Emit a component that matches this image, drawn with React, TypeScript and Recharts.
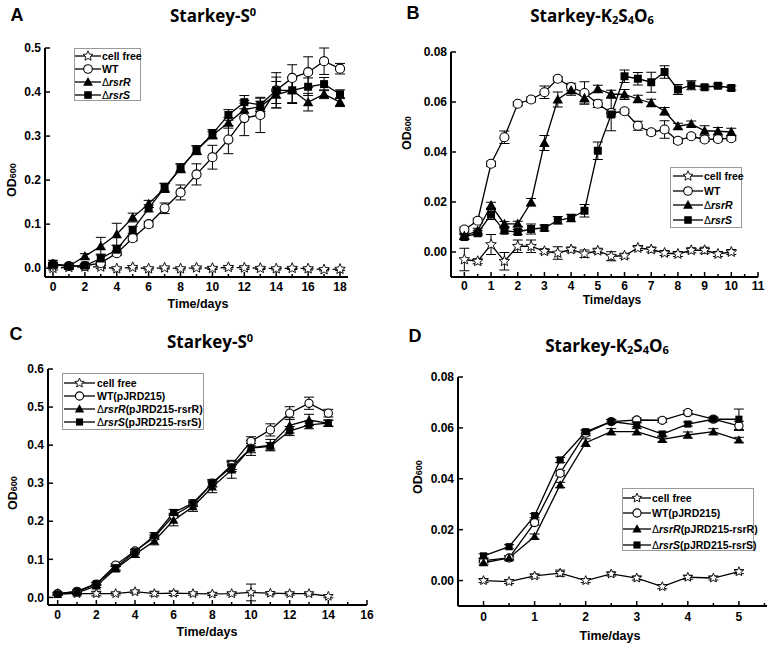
import React from "react";
import { LineChart, Line, XAxis, YAxis, ErrorBar } from "recharts";

// ---------- Panel A: Starkey-S0 ----------
const A_DAYS = [0, 1, 2, 3, 4, 5, 6, 7, 8, 9, 10, 11, 12, 13, 14, 15, 16, 17, 18];
const A_CELLFREE = [0, 0.002, 0.003, 0.003, -0.001, 0.002, -0.001, 0.001, -0.001, 0.001, 0, 0.002, 0.001, 0, -0.001, 0, -0.001, -0.003, -0.002];
const A_CELLFREE_ERR = [0.004, 0.004, 0.004, 0.004, 0.003, 0.004, 0.003, 0.003, 0.003, 0.003, 0.003, 0.004, 0.004, 0.003, 0.003, 0.003, 0.003, 0.003, 0.003];
const A_WT = [0.008, 0.005, 0.005, 0.012, 0.034, 0.068, 0.1, 0.136, 0.172, 0.213, 0.252, 0.292, 0.341, 0.348, 0.404, 0.432, 0.445, 0.47, 0.453];
const A_WT_ERR = [0.003, 0.003, 0.003, 0.005, 0.005, 0.006, 0.006, 0.012, 0.017, 0.024, 0.027, 0.032, 0.04, 0.04, 0.03, 0.03, 0.035, 0.03, 0.012];
const A_RSRR = [0.01, 0.005, 0.027, 0.05, 0.077, 0.115, 0.146, 0.182, 0.227, 0.268, 0.302, 0.33, 0.36, 0.367, 0.394, 0.404, 0.377, 0.395, 0.377];
const A_RSRR_ERR = [0.008, 0.004, 0.006, 0.02, 0.025, 0.01, 0.008, 0.01, 0.01, 0.01, 0.008, 0.012, 0.015, 0.012, 0.03, 0.028, 0.02, 0.01, 0.01];
const A_RSRS = [0.008, 0.005, 0.006, 0.022, 0.042, 0.087, 0.136, 0.183, 0.227, 0.268, 0.305, 0.348, 0.377, 0.371, 0.404, 0.404, 0.412, 0.418, 0.395];
const A_RSRS_ERR = [0.005, 0.004, 0.004, 0.01, 0.01, 0.008, 0.008, 0.01, 0.01, 0.01, 0.01, 0.012, 0.015, 0.015, 0.04, 0.03, 0.02, 0.015, 0.01];
const A_X_TICKS = [0, 1, 2, 3, 4, 5, 6, 7, 8, 9, 10, 11, 12, 13, 14, 15, 16, 17, 18];
const A_X_LABELS = [0, 2, 4, 6, 8, 10, 12, 14, 16, 18];
const A_Y_TICKS = [0, 0.1, 0.2, 0.3, 0.4, 0.5];

// ---------- Panel B: Starkey-K2S4O6 ----------
const B_DAYS = [0, 0.5, 1, 1.5, 2, 2.5, 3, 3.5, 4, 4.5, 5, 5.5, 6, 6.5, 7, 7.5, 8, 8.5, 9, 9.5, 10];
const B_CELLFREE = [-0.003, -0.0037, 0.003, -0.0037, 0.0023, 0.0023, 0.0003, -0.0004, 0.001, -0.0007, 0.0005, -0.0017, -0.0015, 0.0016, 0.001, -0.0004, -0.0008, 0.0007, 0.0007, -0.0008, 0];
const B_CELLFREE_ERR = [0.0045, 0.001, 0.004, 0.0035, 0.0025, 0.0025, 0.001, 0.0025, 0.001, 0.0015, 0.001, 0.0018, 0.001, 0.001, 0.001, 0.001, 0.001, 0.001, 0.0012, 0.001, 0.001];
const B_WT = [0.009, 0.0125, 0.0353, 0.0459, 0.0593, 0.061, 0.0639, 0.0693, 0.066, 0.0636, 0.0593, 0.0556, 0.0563, 0.0505, 0.0479, 0.049, 0.0445, 0.0463, 0.045, 0.0452, 0.0455];
const B_WT_ERR = [0.001, 0.001, 0.001, 0.0025, 0.0008, 0.001, 0.0025, 0.0008, 0.0015, 0.0045, 0.0015, 0.0015, 0.0008, 0.0018, 0.001, 0.0035, 0.001, 0.0008, 0.0008, 0.0008, 0.0008];
const B_RSRR = [0.0065, 0.0085, 0.0187, 0.0112, 0.0113, 0.0199, 0.0436, 0.061, 0.0647, 0.0616, 0.0652, 0.0632, 0.063, 0.0612, 0.0596, 0.0563, 0.0503, 0.0512, 0.0485, 0.0483, 0.048];
const B_RSRR_ERR = [0.001, 0.001, 0.0012, 0.001, 0.001, 0.0015, 0.003, 0.003, 0.002, 0.002, 0.0015, 0.0015, 0.002, 0.0015, 0.0015, 0.0015, 0.0012, 0.0012, 0.002, 0.0015, 0.0015];
const B_RSRS = [0.006, 0.0075, 0.015, 0.0085, 0.008, 0.0092, 0.0096, 0.0127, 0.0136, 0.0165, 0.0405, 0.055, 0.0703, 0.0693, 0.0679, 0.072, 0.065, 0.0667, 0.0659, 0.0665, 0.0656];
const B_RSRS_ERR = [0.001, 0.001, 0.002, 0.001, 0.001, 0.002, 0.0012, 0.0015, 0.0015, 0.0025, 0.0035, 0.0065, 0.0025, 0.0025, 0.004, 0.0025, 0.002, 0.0018, 0.0008, 0.0008, 0.0008];
const B_X_TICKS = [0, 0.5, 1, 1.5, 2, 2.5, 3, 3.5, 4, 4.5, 5, 5.5, 6, 6.5, 7, 7.5, 8, 8.5, 9, 9.5, 10, 10.5, 11];
const B_X_LABELS = [0, 1, 2, 3, 4, 5, 6, 7, 8, 9, 10, 11];
const B_Y_TICKS = [0, 0.02, 0.04, 0.06, 0.08];

// ---------- Panel C: Starkey-S0, complemented ----------
const C_DAYS = [0, 1, 2, 3, 4, 5, 6, 7, 8, 9, 10, 11, 12, 13, 14];
const C_CELLFREE = [0.01, 0.01, 0.01, 0.01, 0.015, 0.01, 0.011, 0.01, 0.009, 0.01, 0.013, 0.011, 0.01, 0.01, 0.003];
const C_CELLFREE_ERR = [0.003, 0.003, 0.006, 0.004, 0.004, 0.006, 0.006, 0.004, 0.004, 0.004, 0.022, 0.004, 0.004, 0.004, 0.004];
const C_WT = [0.01, 0.016, 0.035, 0.085, 0.122, 0.158, 0.215, 0.245, 0.3, 0.348, 0.41, 0.44, 0.484, 0.51, 0.484];
const C_WT_ERR = [0.003, 0.003, 0.004, 0.004, 0.004, 0.006, 0.006, 0.006, 0.008, 0.012, 0.012, 0.016, 0.017, 0.016, 0.01];
const C_RSRR = [0.008, 0.012, 0.03, 0.075, 0.113, 0.148, 0.203, 0.238, 0.29, 0.335, 0.393, 0.4, 0.452, 0.466, 0.457];
const C_RSRR_ERR = [0.003, 0.003, 0.004, 0.006, 0.008, 0.01, 0.015, 0.012, 0.015, 0.022, 0.02, 0.015, 0.02, 0.015, 0.008];
const C_RSRS = [0.009, 0.016, 0.036, 0.078, 0.12, 0.162, 0.223, 0.248, 0.3, 0.343, 0.392, 0.397, 0.437, 0.453, 0.458];
const C_RSRS_ERR = [0.003, 0.003, 0.004, 0.006, 0.006, 0.008, 0.008, 0.008, 0.01, 0.012, 0.012, 0.01, 0.012, 0.01, 0.008];
const C_X_TICKS = [0, 1, 2, 3, 4, 5, 6, 7, 8, 9, 10, 11, 12, 13, 14, 15, 16];
const C_X_LABELS = [0, 2, 4, 6, 8, 10, 12, 14, 16];
const C_Y_TICKS = [0, 0.1, 0.2, 0.3, 0.4, 0.5, 0.6];

// ---------- Panel D: Starkey-K2S4O6, complemented ----------
const D_DAYS = [0, 0.5, 1, 1.5, 2, 2.5, 3, 3.5, 4, 4.5, 5];
const D_CELLFREE = [0, -0.0004, 0.0018, 0.0029, 0, 0.0026, 0.001, -0.0024, 0.0013, 0.001, 0.0035];
const D_CELLFREE_ERR = [0.0008, 0.0008, 0.0008, 0.0012, 0.0008, 0.0008, 0.0008, 0.0008, 0.0008, 0.0008, 0.0008];
const D_WT = [0.0078, 0.0089, 0.0228, 0.0422, 0.0579, 0.0625, 0.0631, 0.063, 0.066, 0.0634, 0.0608];
const D_WT_ERR = [0.0008, 0.0008, 0.001, 0.001, 0.001, 0.0008, 0.0008, 0.0008, 0.0008, 0.0008, 0.0018];
const D_RSRR = [0.007, 0.0089, 0.0173, 0.0376, 0.0542, 0.0585, 0.0585, 0.0555, 0.0572, 0.0585, 0.0553];
const D_RSRR_ERR = [0.0008, 0.0008, 0.001, 0.001, 0.0015, 0.0012, 0.0012, 0.001, 0.0012, 0.0012, 0.001];
const D_RSRS = [0.0097, 0.0133, 0.0255, 0.0474, 0.0585, 0.0625, 0.0612, 0.0576, 0.0615, 0.0634, 0.0634];
const D_RSRS_ERR = [0.0008, 0.0008, 0.0008, 0.001, 0.0008, 0.0008, 0.0008, 0.0008, 0.0008, 0.0008, 0.004];
const D_X_TICKS = [0, 0.5, 1, 1.5, 2, 2.5, 3, 3.5, 4, 4.5, 5, 5.5];
const D_X_LABELS = [0, 1, 2, 3, 4, 5];
const D_Y_TICKS = [0, 0.02, 0.04, 0.06, 0.08];

// legend texts
const STRAINS = ["cell free", "WT", "\u0394rsrR", "\u0394rsrS"];
const PLASMIDS = ["", "(pJRD215)", "(pJRD215-rsrR)", "(pJRD215-rsrS)"];

const FONT = "'Liberation Sans', Arial, Helvetica, sans-serif";
const SERIES = [
  { key: "cf", kind: "star" },
  { key: "wt", kind: "circle" },
  { key: "r", kind: "triangle" },
  { key: "s", kind: "square" },
];

function Marker({ kind, cx, cy, s }: { kind: string; cx: number; cy: number; s: number }) {
  if (kind === "circle")
    return <circle cx={cx} cy={cy} r={s * 0.48} fill="#fff" stroke="#000" strokeWidth={1.1} />;
  if (kind === "square")
    return <rect x={cx - s * 0.42} y={cy - s * 0.42} width={s * 0.84} height={s * 0.84} fill="#000" />;
  if (kind === "triangle")
    return (
      <polygon
        points={`${cx},${cy - s * 0.55} ${cx + s * 0.55},${cy + s * 0.42} ${cx - s * 0.55},${cy + s * 0.42}`}
        fill="#000"
      />
    );
  const pts: string[] = [];
  for (let i = 0; i < 10; i++) {
    const rad = i % 2 === 0 ? s * 0.58 : s * 0.26;
    const a = -Math.PI / 2 + (i * Math.PI) / 5;
    pts.push(`${cx + rad * Math.cos(a)},${cy + rad * Math.sin(a)}`);
  }
  return <polygon points={pts.join(" ")} fill="#fff" stroke="#000" strokeWidth={0.9} />;
}

interface PanelCfg {
  left: number;
  top: number;
  width: number;
  height: number;
  margin: { top: number; right: number; bottom: number; left: number };
  yAxisWidth: number;
  days: number[];
  series: number[][]; // cf, cfE, wt, wtE, r, rE, s, sE
  xDomain: [number, number];
  xTicks: number[];
  xLabels: number[];
  xLabelGap: number;
  yDomain: [number, number];
  yTicks: number[];
  yDigits: number;
  cfDash?: string;
  size: number;
}

function Panel({ cfg }: { cfg: PanelCfg }) {
  const [cf, cfE, wt, wtE, r, rE, s, sE] = cfg.series;
  const data = cfg.days.map((d, i) => ({
    day: d,
    cf: cf[i], cfE: cfE[i],
    wt: wt[i], wtE: wtE[i],
    r: r[i], rE: rE[i],
    s: s[i], sE: sE[i],
  }));

  const xTick = (props: any) => {
    const { x, y, payload } = props;
    const major = cfg.xLabels.includes(payload.value);
    return (
      <g>
        <line x1={x} x2={x} y1={y} y2={y - (major ? 5 : 3)} stroke="#000" strokeWidth={1.5} />
        {major && (
          <text x={x} y={y + cfg.xLabelGap} dy="0.35em" textAnchor="middle" fontSize={12} fontWeight="bold" fontFamily={FONT} fill="#000">
            {payload.value}
          </text>
        )}
      </g>
    );
  };

  const yTick = (props: any) => {
    const { x, y, payload } = props;
    return (
      <g>
        <line x1={x} x2={x + 5} y1={y} y2={y} stroke="#000" strokeWidth={1.5} />
        <text x={x - 4} y={y} dy="0.35em" textAnchor="end" fontSize={12} fontWeight="bold" fontFamily={FONT} fill="#000">
          {Number(payload.value).toFixed(cfg.yDigits)}
        </text>
      </g>
    );
  };

  return (
    <div style={{ position: "absolute", left: cfg.left, top: cfg.top }}>
      <LineChart width={cfg.width} height={cfg.height} data={data} margin={cfg.margin}>
        <XAxis
          dataKey="day"
          type="number"
          domain={cfg.xDomain}
          ticks={cfg.xTicks}
          interval={0}
          allowDataOverflow
          height={30}
          tickSize={0}
          tickMargin={0}
          tickLine={false}
          axisLine={{ stroke: "#000", strokeWidth: 2 }}
          tick={xTick}
        />
        <YAxis
          type="number"
          domain={cfg.yDomain}
          ticks={cfg.yTicks}
          interval={0}
          allowDataOverflow
          width={cfg.yAxisWidth}
          tickSize={0}
          tickMargin={0}
          tickLine={false}
          axisLine={{ stroke: "#000", strokeWidth: 2 }}
          tick={yTick}
        />
        {SERIES.map((ser) => (
          <Line
            key={ser.key}
            dataKey={ser.key}
            type="linear"
            stroke="#000"
            strokeWidth={1.3}
            strokeDasharray={ser.key === "cf" ? cfg.cfDash : undefined}
            isAnimationActive={false}
            activeDot={false}
            dot={(d: any) => (
              <Marker key={`${ser.key}-${d.index}`} kind={ser.kind} cx={d.cx} cy={d.cy} s={cfg.size} />
            )}
          >
            <ErrorBar dataKey={`${ser.key}E`} width={5} stroke="#000" strokeWidth={1} direction="y" isAnimationActive={false} />
          </Line>
        ))}
      </LineChart>
    </div>
  );
}

function StrainLabel({ i, withPlasmid }: { i: number; withPlasmid: boolean }) {
  const name = STRAINS[i];
  const tail = withPlasmid ? PLASMIDS[i] : "";
  if (name.startsWith("\u0394")) {
    return (
      <span>
        <span style={{ fontWeight: 400 }}>{"\u0394"}</span>
        <i>{name.slice(1)}</i>
        {tail}
      </span>
    );
  }
  return <span>{name + tail}</span>;
}

function LegendBox({
  box, rows, sampleLeft, sampleWidth, textLeft, withPlasmid, size,
}: {
  box: [number, number, number, number];
  rows: number[];
  sampleLeft: number;
  sampleWidth: number;
  textLeft: number;
  withPlasmid: boolean;
  size: number;
}) {
  return (
    <>
      <div
        style={{
          position: "absolute", left: box[0], top: box[1], width: box[2], height: box[3],
          border: "1px solid #9a9a9a", boxSizing: "border-box",
        }}
      />
      {rows.map((cy, i) => (
        <React.Fragment key={i}>
          <svg style={{ position: "absolute", left: sampleLeft, top: cy - 7 }} width={sampleWidth} height={14}>
            <line x1={0} x2={sampleWidth} y1={7} y2={7} stroke="#000" strokeWidth={1.3} />
            <Marker kind={SERIES[i].kind} cx={sampleWidth / 2} cy={7} s={size} />
          </svg>
          <div
            style={{
              position: "absolute", left: textLeft, top: cy - 7, height: 14, lineHeight: "14px",
              fontSize: 10.5, fontWeight: "bold", fontFamily: FONT, whiteSpace: "nowrap", color: "#000",
            }}
          >
            <StrainLabel i={i} withPlasmid={withPlasmid} />
          </div>
        </React.Fragment>
      ))}
    </>
  );
}

function Abs({ x, y, children, style }: { x: number; y: number; children: React.ReactNode; style?: React.CSSProperties }) {
  return (
    <div
      style={{
        position: "absolute", left: x, top: y, transform: "translate(-50%, -50%)",
        whiteSpace: "nowrap", lineHeight: 1, color: "#000", ...style,
      }}
    >
      {children}
    </div>
  );
}

const titleStyle: React.CSSProperties = { fontFamily: "'Open Sans', sans-serif", fontWeight: 700, fontSize: 17 };
const letterStyle: React.CSSProperties = { fontFamily: FONT, fontWeight: "bold", fontSize: 18 };
const axisStyle: React.CSSProperties = { fontFamily: FONT, fontWeight: "bold", fontSize: 12.5 };
const sub: React.CSSProperties = { fontSize: "0.65em", verticalAlign: "-0.25em" };
const sup: React.CSSProperties = { fontSize: "0.65em", verticalAlign: "0.55em" };

function TitleS0() {
  return (
    <span>
      Starkey-S<span style={sup}>0</span>
    </span>
  );
}
function TitleK() {
  return (
    <span>
      Starkey-K<span style={sub}>2</span>S<span style={sub}>4</span>O<span style={sub}>6</span>
    </span>
  );
}
function OD({ x, y }: { x: number; y: number }) {
  return (
    <Abs x={x} y={y} style={{ ...axisStyle, transform: "translate(-50%, -50%) rotate(-90deg)" }}>
      OD<span style={{ fontSize: 9 }}>600</span>
    </Abs>
  );
}

const PANEL_A: PanelCfg = {
  left: 0, top: 0, width: 387, height: 320,
  margin: { top: 48, right: 39, bottom: 13, left: 5 }, yAxisWidth: 40,
  days: A_DAYS,
  series: [A_CELLFREE, A_CELLFREE_ERR, A_WT, A_WT_ERR, A_RSRR, A_RSRR_ERR, A_RSRS, A_RSRS_ERR],
  xDomain: [-0.5, 18.5], xTicks: A_X_TICKS, xLabels: A_X_LABELS, xLabelGap: 10,
  yDomain: [-0.02, 0.5], yTicks: A_Y_TICKS, yDigits: 1, cfDash: "5 3", size: 9.5,
};
const PANEL_B: PanelCfg = {
  left: 387, top: 0, width: 387, height: 320,
  margin: { top: 52, right: 16, bottom: 13, left: 19 }, yAxisWidth: 45,
  days: B_DAYS,
  series: [B_CELLFREE, B_CELLFREE_ERR, B_WT, B_WT_ERR, B_RSRR, B_RSRR_ERR, B_RSRS, B_RSRS_ERR],
  xDomain: [-0.5, 11], xTicks: B_X_TICKS, xLabels: B_X_LABELS, xLabelGap: 8.5,
  yDomain: [-0.01, 0.08], yTicks: B_Y_TICKS, yDigits: 2, size: 9.5,
};
const PANEL_C: PanelCfg = {
  left: 0, top: 320, width: 387, height: 331,
  margin: { top: 49, right: 20, bottom: 16, left: 8 }, yAxisWidth: 40,
  days: C_DAYS,
  series: [C_CELLFREE, C_CELLFREE_ERR, C_WT, C_WT_ERR, C_RSRR, C_RSRR_ERR, C_RSRS, C_RSRS_ERR],
  xDomain: [-0.5, 16], xTicks: C_X_TICKS, xLabels: C_X_LABELS, xLabelGap: 10,
  yDomain: [-0.02, 0.6], yTicks: C_Y_TICKS, yDigits: 1, size: 8.5,
};
const PANEL_D: PanelCfg = {
  left: 387, top: 320, width: 387, height: 331,
  margin: { top: 57, right: 7, bottom: 15, left: 26 }, yAxisWidth: 45,
  days: D_DAYS,
  series: [D_CELLFREE, D_CELLFREE_ERR, D_WT, D_WT_ERR, D_RSRR, D_RSRR_ERR, D_RSRS, D_RSRS_ERR],
  xDomain: [-0.5, 5.55], xTicks: D_X_TICKS, xLabels: D_X_LABELS, xLabelGap: 11,
  yDomain: [-0.01, 0.08], yTicks: D_Y_TICKS, yDigits: 2, size: 8.5,
};

export default function App() {
  return (
    <div style={{ position: "absolute", left: 0, top: 0, width: 774, height: 651, background: "#fff", overflow: "hidden" }}>
      <Panel cfg={PANEL_A} />
      <Panel cfg={PANEL_B} />
      <Panel cfg={PANEL_C} />
      <Panel cfg={PANEL_D} />

      <Abs x={17} y={15} style={letterStyle}>A</Abs>
      <Abs x={413} y={13} style={letterStyle}>B</Abs>
      <Abs x={16} y={334} style={letterStyle}>C</Abs>
      <Abs x={415} y={336} style={letterStyle}>D</Abs>

      <Abs x={213} y={15} style={titleStyle}><TitleS0 /></Abs>
      <Abs x={592} y={16} style={titleStyle}><TitleK /></Abs>
      <Abs x={210} y={341} style={titleStyle}><TitleS0 /></Abs>
      <Abs x={607} y={346} style={titleStyle}><TitleK /></Abs>

      <Abs x={198} y={304} style={axisStyle}>Time/days</Abs>
      <Abs x={612} y={300} style={{ ...axisStyle, fontSize: 12 }}>Time/days</Abs>
      <Abs x={207} y={632} style={axisStyle}>Time/days</Abs>
      <Abs x={610} y={636} style={axisStyle}>Time/days</Abs>

      <OD x={12} y={180} />
      <OD x={407} y={133} />
      <OD x={13} y={493} />
      <OD x={418} y={477} />

      <LegendBox box={[74, 48, 67, 53]} rows={[56, 69, 82, 95]} sampleLeft={75} sampleWidth={26} textLeft={102} withPlasmid={false} size={9} />
      <LegendBox box={[670, 167, 72, 61]} rows={[176, 191, 205, 220]} sampleLeft={673} sampleWidth={30} textLeft={704} withPlasmid={false} size={9} />
      <LegendBox box={[62, 373, 142, 57]} rows={[383, 396, 409, 422]} sampleLeft={64} sampleWidth={31} textLeft={97} withPlasmid={true} size={8.5} />
      <LegendBox box={[622, 488, 132, 63]} rows={[498, 513, 529, 545]} sampleLeft={623} sampleWidth={28} textLeft={652} withPlasmid={true} size={8.5} />
    </div>
  );
}
